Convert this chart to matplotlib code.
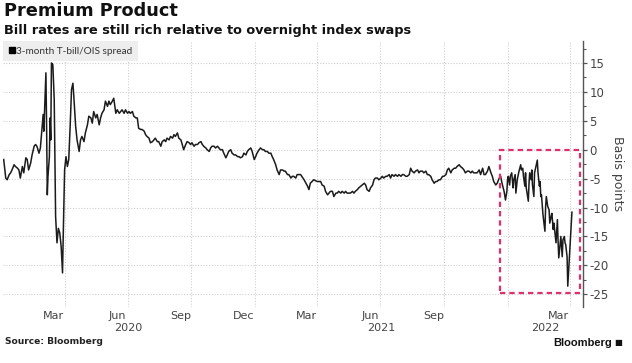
import matplotlib
matplotlib.use("Agg")
import matplotlib.pyplot as plt
import matplotlib.transforms as mtransforms
import matplotlib.dates as mdates
import pandas as pd
from matplotlib.lines import Line2D
from matplotlib.patches import Rectangle

# ---------------- data ----------------
start_date = "2020-01-01"
# observation dates, as days since 2020-01-01
days = [
    3, 6, 8, 11, 13, 15, 18, 20, 23, 25,
    27, 30, 32, 35, 37, 39, 42, 44, 47, 49,
    51, 54, 56, 59, 60, 61, 63, 64, 65, 66,
    67, 69, 70, 71, 72, 74, 76, 77, 78, 80,
    82, 84, 86, 88, 89, 91, 93, 95, 97, 99,
    101, 103, 104, 107, 109, 112, 114, 116, 119, 121,
    124, 126, 129, 131, 133, 136, 138, 141, 143, 145,
    148, 150, 153, 155, 157, 160, 162, 165, 167, 170,
    172, 174, 177, 179, 182, 184, 186, 189, 191, 194,
    196, 198, 201, 203, 206, 208, 210, 213, 215, 218,
    220, 222, 225, 227, 230, 232, 235, 237, 239, 242,
    244, 247, 249, 251, 254, 256, 259, 261, 263, 266,
    268, 271, 273, 275, 278, 280, 283, 285, 288, 290,
    292, 295, 297, 300, 302, 304, 307, 309, 312, 314,
    316, 319, 321, 324, 326, 328, 331, 333, 336, 338,
    341, 343, 345, 348, 350, 353, 355, 357, 360, 362,
    365, 367, 369, 372, 374, 377, 379, 381, 384, 386,
    389, 391, 393, 396, 398, 401, 403, 406, 408, 410,
    413, 415, 418, 420, 422, 425, 427, 430, 432,
    437, 442, 444, 446, 451, 456, 461, 463, 466, 468,
    471, 473, 475, 478, 480, 483, 485, 487, 490, 492,
    495, 497, 499, 502, 504, 507, 509, 511, 514, 516,
    519, 521, 524, 526, 528, 531, 533, 536, 538, 540,
    543, 545, 548, 550, 552, 555, 557, 560, 562, 564,
    567, 569, 572, 574, 577, 579, 581, 584, 586, 589,
    591, 593, 596, 598, 601, 603, 605, 608, 610, 613,
    615, 617, 620, 622, 625, 627, 629, 632, 634, 637,
    639, 642, 644, 646, 649, 651, 654, 656, 658, 661,
    663, 666, 668, 670, 673, 675, 678, 680, 682, 685,
    687, 690, 692, 695, 697, 699, 702, 704, 707, 709,
    711, 714, 716, 719,
    721, 723, 726, 728, 730, 731, 732, 734, 735, 737,
    739, 740, 742, 743, 745, 747, 748, 750, 751, 753,
    754, 756, 757, 758, 760, 761, 762, 763, 765, 766,
    767, 769, 770, 772, 774, 775, 777, 778, 779, 780,
    782, 783, 785, 786, 787, 789, 791, 792, 794, 795,
    797, 798, 800, 801, 803, 804, 805, 807, 808, 810,
    811, 813, 814, 815, 817, 818, 824,
]
spread_bp = [
    -1.7, -4.9, -5.2, -4.3, -4.0, -3.5, -2.6, -2.9, -3.2, -3.5,
    -4.9, -2.9, -4.0, -1.4, -1.7, -3.5, -2.3, -0.9, 0.6, 0.9,
    0.6, -0.6, 0.3, 4.6, 6.1, 3.2, 9.8, 13.3, 4.0, -7.8,
    -4.6, -1.2, 5.5, 1.7, 15.0, 14.7, 8.7, -1.7, -11.5, -16.1,
    -13.6, -14.4, -16.7, -21.3, -15.0, -3.5, -1.2, -2.9, -1.7, 4.0,
    10.4, 11.5, 9.8, 4.0, 1.7, -0.3, 1.7, 2.3, 1.4, 2.9,
    4.3, 5.8, 5.5, 4.6, 6.6, 5.5, 6.1, 4.3, 5.5, 6.3,
    6.9, 8.4, 7.5, 8.4, 7.8, 8.4, 8.9, 6.3, 6.9, 6.3,
    6.6, 6.9, 6.3, 6.9, 6.3, 6.6, 6.3, 6.6, 5.8, 5.5,
    5.5, 3.7, 3.5, 3.5, 3.2, 2.6, 2.3, 2.0, 1.2, 1.4,
    1.7, 2.0, 1.4, 1.4, 0.6, 1.4, 1.7, 1.4, 2.0, 1.7,
    2.3, 2.0, 2.6, 2.3, 2.9, 2.0, 1.7, 0.9, 0.0, 0.9,
    1.4, 1.2, 0.9, 1.2, 0.6, 0.9, 0.9, 1.2, 1.4, 0.9,
    0.6, 0.3, 0.0, -0.3, 0.3, 0.6, 0.6, 0.3, 0.6, 0.3,
    0.0, 0.0, -0.6, -1.4, -0.9, -0.3, 0.0, -0.6, -0.9, -0.9,
    -1.2, -1.2, -1.4, -1.2, -0.6, -0.9, -0.3, 0.0, 0.3, -0.3,
    -1.7, -1.2, -0.6, 0.0, 0.3, 0.0, 0.0, -0.3, -0.3, -0.6,
    -0.6, -1.2, -1.7, -2.6, -3.5, -4.3, -3.5, -3.5, -3.7, -3.7,
    -4.3, -4.3, -4.9, -4.6, -4.6, -4.9, -4.3, -4.3, -4.3,
    -5.2, -6.3, -6.9, -5.8, -5.2, -5.5, -5.5, -6.1, -6.3, -7.2,
    -7.8, -7.5, -7.2, -7.2, -8.1, -7.5, -7.5, -7.2, -7.5, -7.2,
    -7.5, -7.2, -7.5, -7.5, -7.5, -7.2, -7.5, -7.2, -6.9, -6.6,
    -6.3, -6.1, -5.8, -6.1, -6.9, -7.2, -6.6, -6.1, -5.2, -4.9,
    -4.9, -5.2, -4.9, -4.6, -4.9, -4.6, -4.6, -4.3, -4.9, -4.3,
    -4.6, -4.3, -4.6, -4.3, -4.6, -4.3, -4.3, -4.6, -4.6, -4.3,
    -3.2, -3.7, -4.0, -3.7, -3.5, -4.0, -3.7, -3.7, -4.0, -3.7,
    -4.3, -4.3, -4.6, -5.2, -5.8, -5.5, -5.5, -5.2, -5.2, -4.6,
    -4.6, -4.3, -3.5, -3.2, -4.0, -3.5, -3.2, -3.2, -2.9, -2.6,
    -2.9, -3.2, -3.5, -4.0, -3.7, -3.7, -4.0, -3.7, -4.0, -4.0,
    -4.0, -3.5, -4.3, -3.2, -4.3, -4.3, -3.7, -2.9, -4.0, -4.6,
    -5.5, -6.1, -5.8, -4.9,
    -4.6, -5.8, -7.2, -8.7, -7.2, -5.2, -4.6, -6.1, -4.6, -4.0,
    -6.6, -5.2, -4.3, -7.5, -5.2, -4.0, -3.5, -2.6, -3.5, -3.2,
    -4.6, -6.3, -4.0, -6.6, -8.1, -8.9, -5.8, -4.0, -5.2, -3.5,
    -6.1, -8.1, -4.0, -2.9, -1.8, -4.0, -6.3, -5.5, -8.1, -7.8,
    -11.0, -12.1, -14.1, -9.8, -8.1, -9.8, -10.4, -12.7, -11.5, -11.0,
    -13.8, -12.7, -15.0, -16.1, -12.1, -15.9, -18.7, -16.1, -15.0, -18.5,
    -15.6, -15.0, -16.1, -16.4, -18.5, -23.6, -10.8,
]
assert len(days) == len(spread_bp)

series_name = "3-month T-bill/OIS spread"
month_labels = ["Mar", "Jun", "Sep", "Dec", "Mar", "Jun", "Sep", "Mar"]
month_label_dates = ["2020-03-16", "2020-06-16", "2020-09-16", "2020-12-16",
                     "2021-03-16", "2021-06-16", "2021-09-16", "2022-03-16"]
year_labels = ["2020", "2021", "2022"]
year_label_dates = ["2020-07-02", "2021-07-02", "2022-02-25"]
grid_dates = ["2020-04-01", "2020-07-01", "2020-10-01", "2021-01-01",
              "2021-04-01", "2021-07-01", "2021-10-01", "2022-01-01", "2022-04-01"]
y_ticks = [-25, -20, -15, -10, -5, 0, 5, 10, 15]
y_minor_ticks = [-22.5, -17.5, -12.5, -7.5, -2.5, 2.5, 7.5, 12.5, 17.5]
x_range = ["2020-01-03", "2022-04-20"]
y_range = [-27.2, 18.8]
box_dates = ["2021-12-21", "2022-04-16"]
box_values = [-24.7, 0]

# ---------------- figure ----------------
t0 = pd.Timestamp(start_date)
dates = t0 + pd.to_timedelta(days, unit="D")

W, H = 632, 363
fig = plt.figure(figsize=(W / 100, H / 100), dpi=100)
ax = fig.add_axes([3 / W, 56 / H, 580 / W, 266 / H])

ax.plot(dates, spread_bp, color="#1b1b1b", lw=1.1, solid_joinstyle="round")

ax.set_xlim(pd.Timestamp(x_range[0]), pd.Timestamp(x_range[1]))
ax.set_ylim(*y_range)

# dashed highlight box
rx0 = mdates.date2num(pd.Timestamp(box_dates[0]))
rx1 = mdates.date2num(pd.Timestamp(box_dates[1]))
rect = Rectangle((rx0, box_values[0]), rx1 - rx0, box_values[1] - box_values[0],
                 fill=False, edgecolor="#e0306a", lw=1.6, ls=(0, (2.4, 1.8)), zorder=5)
ax.add_patch(rect)

# x axis: gridlines at quarter starts, labels mid-month
ax.set_xticks(pd.to_datetime(grid_dates))
ax.set_xticks(pd.to_datetime(month_label_dates), minor=True)
ax.set_xticklabels(month_labels, minor=True)
ax.tick_params(axis="x", which="major", length=0, labelbottom=False)
ax.tick_params(axis="x", which="minor", length=0, pad=3, labelsize=8, labelcolor="#444444")
ax.grid(axis="x", which="major", ls=(0, (1, 1.5)), color="#cfcfcf", lw=0.8)

trans = mtransforms.blended_transform_factory(ax.transData, ax.transAxes)
for lab, d in zip(year_labels, year_label_dates):
    ax.text(pd.Timestamp(d), -0.079, lab, transform=trans, ha="center", va="center",
            fontsize=8, color="#444444")

# y axis on the right
ax.yaxis.tick_right()
ax.yaxis.set_label_position("right")
ax.set_yticks(y_ticks)
ax.set_yticks(y_minor_ticks, minor=True)
ax.set_yticklabels([str(v) for v in y_ticks])
ax.tick_params(axis="y", which="major", length=3, width=0.9, color="#555555",
               pad=1.5, labelsize=8.5, labelcolor="#444444")
ax.tick_params(axis="y", which="minor", length=2, width=0.8, color="#555555")
ax.grid(axis="y", which="major", ls=(0, (1, 1.5)), color="#cfcfcf", lw=0.8)
ax.set_ylabel("Basis points", rotation=270, labelpad=11, fontsize=9, color="#444444")

for s in ["left", "top", "bottom"]:
    ax.spines[s].set_visible(False)
ax.spines["right"].set_color("#555555")
ax.spines["right"].set_linewidth(1.0)

# legend
handle = Line2D([], [], marker="s", color="black", ls="", markersize=4.5)
leg = ax.legend([handle], [series_name], loc="upper left", bbox_to_anchor=(0, 1),
                borderaxespad=0, frameon=True, fancybox=False, facecolor="#eeeeee",
                edgecolor="none", framealpha=1, handlelength=0.6,
                handletextpad=0.2, borderpad=0.55, prop={"family": "Lato", "size": 7.2})
for t in leg.get_texts():
    t.set_color("#333333")

# titles
fig.text(4 / W, 1 - 2 / H, "Premium Product", ha="left", va="top",
         fontsize=12.8, fontweight="bold", family="DejaVu Sans", color="#111111")
fig.text(4 / W, 1 - 30.5 / H, "Bill rates are still rich relative to overnight index swaps",
         ha="left", va="center", fontsize=9.25, fontweight="bold",
         family="DejaVu Sans", color="#111111")
fig.text(5 / W, 1 - 342 / H, "Source: Bloomberg", ha="left", va="center",
         fontsize=6.6, fontweight="bold", family="DejaVu Sans", color="#222222")
fig.text(612 / W, 1 - 343 / H, "Bloomberg", ha="right", va="center",
         fontsize=8, fontweight="bold", family="Liberation Sans", color="#111111")
fig.text(614 / W, 1 - 343 / H, "\u25a0", ha="left", va="center",
         fontsize=6, family="DejaVu Sans", color="#111111")

fig.savefig("out.png", dpi=100, facecolor="white")
